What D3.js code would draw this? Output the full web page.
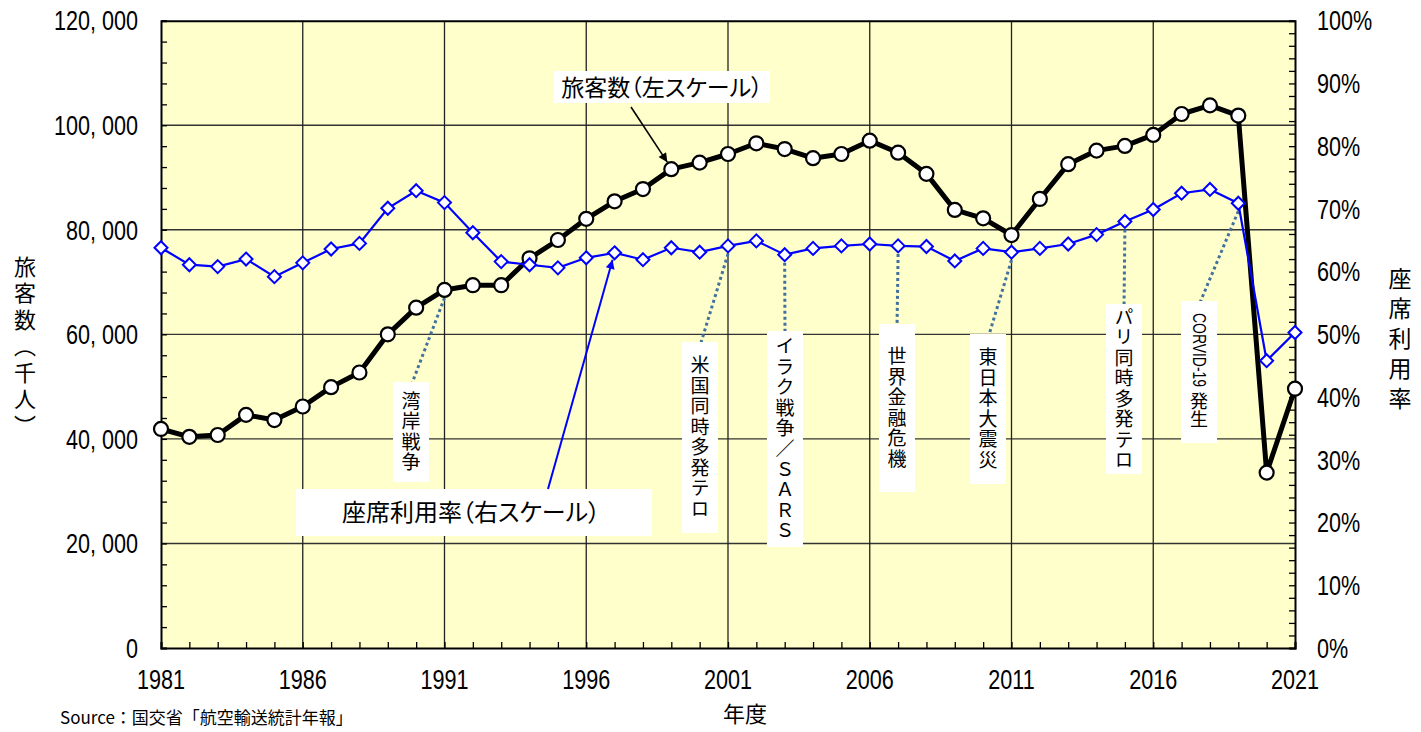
<!DOCTYPE html>
<html><head><meta charset="utf-8">
<script src="https://cdn.jsdelivr.net/npm/d3@7"></script>
<style>
body{margin:0;background:#fff;}
svg{display:block;}
.num{font-family:"Liberation Sans","Arial",sans-serif;}
.jp{font-family:"Noto Sans CJK JP","Noto Sans",sans-serif;}
</style></head>
<body>
<svg id="chart" width="1421" height="732"></svg>
<script>
const years = d3.range(1981, 2022);
const passengers = [41900,40400,40750,44600,43600,46200,49900,52700,60000,65100,68500,69400,69400,
  74550,78050,82100,85450,87800,91600,92850,94500,96550,95450,93700,94500,97050,94750,90700,83800,82200,
  79000,85900,92550,95150,96050,98150,102150,103800,101850,33550,49600];
const seatRate = [0.638,0.611,0.608,0.620,0.592,0.614,0.636,0.645,0.701,0.729,0.710,0.662,0.616,
  0.611,0.606,0.622,0.630,0.619,0.638,0.631,0.641,0.649,0.627,0.637,0.641,0.644,0.641,0.640,0.617,0.637,
  0.631,0.637,0.644,0.659,0.680,0.699,0.725,0.731,0.709,0.458,0.503];
const leftTicks = [0,20000,40000,60000,80000,100000,120000];
const rightTicks = [0,0.1,0.2,0.3,0.4,0.5,0.6,0.7,0.8,0.9,1.0];
const xTicks = [1981,1986,1991,1996,2001,2006,2011,2016,2021];
const events = [
  {year:1991, label:"湾岸戦争", bx:411, top:382, bottom:482, from:"pass"},
  {year:2001, label:"米国同時多発テロ", bx:700, top:342, bottom:533, from:"seat"},
  {year:2003, label:"イラク戦争／ＳＡＲＳ", bx:785, top:331, bottom:547, from:"seat"},
  {year:2007, label:"世界金融危機", bx:897, top:324, bottom:492, from:"seat"},
  {year:2011, label:"東日本大震災", bx:988, top:334, bottom:484, from:"seat"},
  {year:2015, label:"パリ同時多発テロ", bx:1124, top:304, bottom:474, from:"seat"},
  {year:2019, label:"発生", latin:"CORVID-19", bx:1199, top:301, bottom:443, from:"seat"}
];

const svg = d3.select("#chart");
const L=161, R=1295, T=20.7, B=648;
const x = d3.scaleLinear().domain([1981,2021]).range([L,R]);
const yL = d3.scaleLinear().domain([0,120000]).range([B,T]);
const yR = d3.scaleLinear().domain([0,1]).range([B,T]);
const SX = 0.8;

const defs = svg.append("defs");
defs.append("marker").attr("id","arrBlack").attr("viewBox","0 0 10 10").attr("refX",10).attr("refY",5)
  .attr("markerWidth",14).attr("markerHeight",9).attr("markerUnits","userSpaceOnUse").attr("orient","auto")
  .append("path").attr("d","M0,0 L10,5 L0,10 z").attr("fill","#000");
defs.append("marker").attr("id","arrBlue").attr("viewBox","0 0 10 10").attr("refX",10).attr("refY",5)
  .attr("markerWidth",14).attr("markerHeight",9).attr("markerUnits","userSpaceOnUse").attr("orient","auto")
  .append("path").attr("d","M0,0 L10,5 L0,10 z").attr("fill","#0000ff");

// plot background
svg.append("rect").attr("x",L).attr("y",T).attr("width",R-L).attr("height",B-T).attr("fill","#ffffcc");

// gridlines
svg.append("g").selectAll("line").data(leftTicks.slice(1,-1)).join("line")
  .attr("x1",L).attr("x2",R).attr("y1",d=>yL(d)).attr("y2",d=>yL(d))
  .attr("stroke","#333").attr("stroke-width",1.4);
svg.append("g").selectAll("line").data(xTicks.slice(1,-1)).join("line")
  .attr("y1",T).attr("y2",B).attr("x1",d=>x(d)).attr("x2",d=>x(d))
  .attr("stroke","#222").attr("stroke-width",1.3);

// axes (ticks inside)
const gL = svg.append("g").attr("transform",`translate(${L},0)`)
  .call(d3.axisLeft(yL).tickValues(d3.range(0,120001,4000)).tickSize(-6).tickFormat(""));
const gR = svg.append("g").attr("transform",`translate(${R},0)`)
  .call(d3.axisRight(yR).tickValues(d3.range(0,51).map(d=>d/50)).tickSize(-6).tickFormat(""));
const gB = svg.append("g").attr("transform",`translate(0,${B})`)
  .call(d3.axisBottom(x).tickValues(years).tickSize(-6).tickFormat(""));
const gTop = svg.append("g").attr("transform",`translate(0,${T})`)
  .call(d3.axisTop(x).tickValues([]).tickSize(0));
[gL,gR,gB,gTop].forEach(g=>{g.selectAll("path").attr("stroke","#000").attr("stroke-width",2);
  g.selectAll("line").attr("stroke","#000").attr("stroke-width",1.3);});

// tick labels (condensed)
svg.append("g").selectAll("text").data(leftTicks).join("text").attr("class","num")
  .attr("transform",d=>`translate(138,${yL(d)}) scale(${SX},1)`).attr("dy","0.36em").attr("text-anchor","end")
  .attr("font-size",27).attr("fill","#000")
  .text(d=>d3.format(",")(d).replace(",",", "));
svg.append("g").selectAll("text").data(rightTicks).join("text").attr("class","num")
  .attr("transform",d=>`translate(1317,${yR(d)}) scale(${SX},1)`).attr("dy","0.36em").attr("text-anchor","start")
  .attr("font-size",27).attr("fill","#000")
  .text(d=>d3.format(".0%")(d));
svg.append("g").selectAll("text").data(xTicks).join("text").attr("class","num")
  .attr("transform",d=>`translate(${x(d)},689) scale(${SX},1)`).attr("text-anchor","middle")
  .attr("font-size",27).attr("fill","#000").text(d=>d);

// axis titles
svg.append("text").attr("class","jp").attr("x",25).attr("y",348).attr("text-anchor","middle")
  .style("writing-mode","vertical-rl").attr("font-size",22).attr("letter-spacing",4.5)
  .text("旅客数（千人）");
svg.append("text").attr("class","jp").attr("x",1400).attr("y",342).attr("text-anchor","middle")
  .style("writing-mode","vertical-rl").attr("font-size",23).attr("letter-spacing",7)
  .text("座席利用率");
svg.append("text").attr("class","jp").attr("x",745).attr("y",722).attr("text-anchor","middle")
  .attr("font-size",22).text("年度");
svg.append("text").attr("class","jp").attr("x",60).attr("y",724)
  .attr("font-size",17).text("Source：国交省「航空輸送統計年報」");

// event annotations
const evG = svg.append("g");
events.forEach(e=>{
  const i = years.indexOf(e.year);
  const sx = x(e.year), sy = e.from==="pass" ? yL(passengers[i]) : yR(seatRate[i]);
  evG.append("line").attr("x1",sx).attr("y1",sy+8).attr("x2",e.bx).attr("y2",e.top+4)
    .attr("stroke","#41719c").attr("stroke-width",3).attr("stroke-dasharray","3,3");
  evG.append("rect").attr("x",e.bx-18).attr("y",e.top).attr("width",36).attr("height",e.bottom-e.top).attr("fill","#fff");
});

// lines
svg.append("path").datum(years)
  .attr("d",d3.line().x(d=>x(d)).y((d,i)=>yL(passengers[i])))
  .attr("fill","none").attr("stroke","#000").attr("stroke-width",5).attr("stroke-linejoin","round");
svg.append("g").selectAll("circle").data(years).join("circle")
  .attr("cx",d=>x(d)).attr("cy",(d,i)=>yL(passengers[i])).attr("r",7)
  .attr("fill","#fff").attr("stroke","#000").attr("stroke-width",2.2);
svg.append("path").datum(years)
  .attr("d",d3.line().x(d=>x(d)).y((d,i)=>yR(seatRate[i])))
  .attr("fill","none").attr("stroke","#0000ff").attr("stroke-width",2.2);
svg.append("g").selectAll("path").data(years).join("path")
  .attr("transform",(d,i)=>`translate(${x(d)},${yR(seatRate[i])})`)
  .attr("d","M0,-6.5 L6.5,0 L0,6.5 L-6.5,0 Z")
  .attr("fill","#fff").attr("stroke","#0000ff").attr("stroke-width",2);

// event label texts
events.forEach(e=>{
  const h = e.bottom - e.top;
  if (e.latin) {
    evG.append("text").attr("class","num").attr("font-size",19)
      .attr("transform",`translate(${e.bx-6},${e.top+12}) rotate(90)`)
      .attr("textLength",74).attr("lengthAdjust","spacingAndGlyphs").text(e.latin);
    svg.append("text").attr("class","jp").attr("x",e.bx).attr("y",e.top+91)
      .style("writing-mode","vertical-rl").attr("font-size",18).text(e.label);
  } else {
    svg.append("text").attr("class","jp").attr("x",e.bx).attr("y",e.top+h/2).attr("text-anchor","middle")
      .style("writing-mode","vertical-rl").attr("font-size",19).attr("letter-spacing",1.5).text(e.label);
  }
});

// legend callouts
svg.append("rect").attr("x",554).attr("y",71).attr("width",216).attr("height",32).attr("fill","#fff");
svg.append("text").attr("class","jp").attr("x",662).attr("y",96).attr("text-anchor","middle")
  .attr("font-size",23).style("font-feature-settings","'palt'").text("旅客数（左スケール）");
const iP = years.indexOf(1999);
svg.append("line").attr("x1",631).attr("y1",107).attr("x2",x(1999)-4).attr("y2",yL(passengers[iP])-7)
  .attr("stroke","#000").attr("stroke-width",1.6).attr("marker-end","url(#arrBlack)");

svg.append("rect").attr("x",296).attr("y",489).attr("width",356).attr("height",47).attr("fill","#fff");
svg.append("text").attr("class","jp").attr("x",471).attr("y",521).attr("text-anchor","middle")
  .attr("font-size",24).style("font-feature-settings","'palt'").text("座席利用率（右スケール）");
const iS = years.indexOf(1997);
svg.append("line").attr("x1",548).attr("y1",489).attr("x2",x(1997)-2).attr("y2",yR(seatRate[iS])+7)
  .attr("stroke","#0000ff").attr("stroke-width",2).attr("marker-end","url(#arrBlue)");
</script>
</body></html>
